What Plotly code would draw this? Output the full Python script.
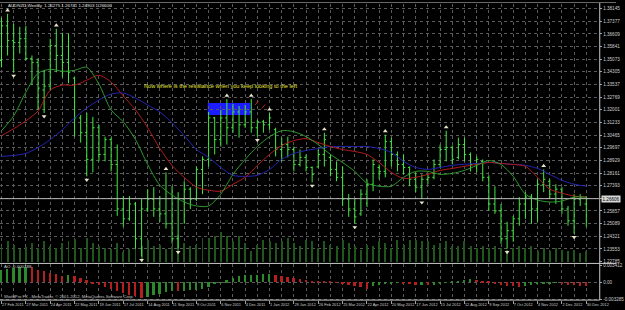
import pandas as pd
import plotly.graph_objects as go

# ---------------- data ----------------
dates = pd.date_range("2011-02-27", periods=97, freq="7D")

opens = [1.3500, 1.3710, 1.3620, 1.3608, 1.3632, 1.3512, 1.3488, 1.3320, 1.3344, 1.3590,
         1.3530, 1.3488, 1.3392, 1.3151, 1.3061, 1.2899, 1.3091, 1.2929, 1.3019, 1.2868,
         1.2598, 1.2538, 1.2628, 1.2417, 1.2598, 1.2658, 1.2598, 1.2568, 1.2508, 1.2417,
         1.2658, 1.2718, 1.2658, 1.2838, 1.2899, 1.3151, 1.3019, 1.3151, 1.3091, 1.3187,
         1.3109, 1.3187, 1.3091, 1.3127, 1.3109, 1.3079, 1.2959, 1.2989, 1.2959, 1.2868,
         1.2911, 1.2850, 1.2853, 1.2929, 1.2911, 1.2838, 1.2790, 1.2658, 1.2598, 1.2568,
         1.2688, 1.2748, 1.2850, 1.2826, 1.3007, 1.2929, 1.2868, 1.2850, 1.2778, 1.2730,
         1.2778, 1.2790, 1.2868, 1.2959, 1.2971, 1.2911, 1.2989, 1.2929, 1.2868, 1.2887,
         1.2790, 1.2628, 1.2586, 1.2417, 1.2466, 1.2538, 1.2628, 1.2670, 1.2598, 1.2748,
         1.2766, 1.2688, 1.2718, 1.2598, 1.2526, 1.2658, 1.26275]
highs = [1.3759, 1.3783, 1.3722, 1.3704, 1.3710, 1.3530, 1.3512, 1.3440, 1.3632, 1.3692,
         1.3668, 1.3662, 1.3398, 1.3169, 1.3181, 1.3157, 1.3109, 1.3037, 1.3031, 1.2989,
         1.2676, 1.2676, 1.2640, 1.2658, 1.2718, 1.2730, 1.2676, 1.2820, 1.2736, 1.2700,
         1.2766, 1.2730, 1.2856, 1.2917, 1.3187, 1.3157, 1.3199, 1.3265, 1.3235, 1.3223,
         1.3229, 1.3265, 1.3139, 1.3139, 1.3181, 1.3091, 1.3031, 1.3037, 1.2977, 1.2959,
         1.2929, 1.2856, 1.2959, 1.3061, 1.2929, 1.2887, 1.2856, 1.2688, 1.2658, 1.2718,
         1.2778, 1.2899, 1.2868, 1.3049, 1.3031, 1.2947, 1.2929, 1.2856, 1.2820, 1.2808,
         1.2808, 1.2899, 1.2989, 1.3073, 1.2983, 1.3031, 1.3031, 1.2941, 1.2917, 1.2899,
         1.2802, 1.2736, 1.2628, 1.2520, 1.2556, 1.2670, 1.2700, 1.2688, 1.2778, 1.2838,
         1.2778, 1.2748, 1.2730, 1.2616, 1.2688, 1.2688, 1.26741]
lows = [1.3458, 1.3530, 1.3428, 1.3542, 1.3500, 1.3350, 1.3199, 1.3181, 1.3320, 1.3428,
        1.3398, 1.3362, 1.3037, 1.3001, 1.2796, 1.2820, 1.2887, 1.2887, 1.2826, 1.2556,
        1.2490, 1.2526, 1.2357, 1.2309, 1.2580, 1.2550, 1.2520, 1.2478, 1.2387, 1.2357,
        1.2508, 1.2598, 1.2646, 1.2688, 1.2856, 1.2929, 1.2977, 1.2989, 1.3061, 1.3031,
        1.3091, 1.3061, 1.3037, 1.3061, 1.3079, 1.2917, 1.2887, 1.2911, 1.2826, 1.2856,
        1.2826, 1.2760, 1.2850, 1.2856, 1.2796, 1.2766, 1.2616, 1.2550, 1.2508, 1.2556,
        1.2610, 1.2706, 1.2778, 1.2790, 1.2856, 1.2826, 1.2808, 1.2736, 1.2700, 1.2658,
        1.2748, 1.2778, 1.2850, 1.2887, 1.2868, 1.2899, 1.2887, 1.2826, 1.2820, 1.2766,
        1.2586, 1.2568, 1.2387, 1.2357, 1.2399, 1.2496, 1.2538, 1.2508, 1.2520, 1.2700,
        1.2658, 1.2628, 1.2568, 1.2496, 1.2448, 1.2616, 1.24903]
closes = [1.3710, 1.3620, 1.3608, 1.3632, 1.3512, 1.3488, 1.3332, 1.3344, 1.3590, 1.3530,
          1.3488, 1.3428, 1.3151, 1.3061, 1.2899, 1.3091, 1.2929, 1.3019, 1.2868, 1.2598,
          1.2538, 1.2628, 1.2417, 1.2598, 1.2658, 1.2598, 1.2568, 1.2508, 1.2417, 1.2658,
          1.2718, 1.2658, 1.2838, 1.2899, 1.3151, 1.3019, 1.3151, 1.3091, 1.3187, 1.3109,
          1.3187, 1.3091, 1.3127, 1.3109, 1.3151, 1.2959, 1.2989, 1.2959, 1.2868, 1.2911,
          1.2850, 1.2808, 1.2929, 1.3019, 1.2838, 1.2790, 1.2658, 1.2598, 1.2550, 1.2688,
          1.2748, 1.2868, 1.2826, 1.3007, 1.2929, 1.2868, 1.2850, 1.2778, 1.2730, 1.2778,
          1.2790, 1.2868, 1.2959, 1.2971, 1.2899, 1.2989, 1.2929, 1.2868, 1.2899, 1.2790,
          1.2628, 1.2586, 1.2417, 1.2466, 1.2538, 1.2628, 1.2670, 1.2598, 1.2748, 1.2778,
          1.2688, 1.2718, 1.2598, 1.2526, 1.2658, 1.2670, 1.26606]

# moving averages, read every second week
ma_green = [1.3073, 1.3163, 1.3307, 1.3422, 1.3446, 1.3434, 1.3440, 1.3458, 1.3356, 1.3199,
            1.3127, 1.3019, 1.2868, 1.2742, 1.2682, 1.2640, 1.2616, 1.2616, 1.2688, 1.2808,
            1.2899, 1.2977, 1.3037, 1.3073, 1.3067, 1.3037, 1.2989, 1.2929, 1.2880, 1.2826,
            1.2754, 1.2736, 1.2736, 1.2790, 1.2826, 1.2826, 1.2808, 1.2814, 1.2832, 1.2862,
            1.2892, 1.2868, 1.2796, 1.2688, 1.2652, 1.2640, 1.2646, 1.2670, 1.2670]
ma_red = [1.3043, 1.3085, 1.3133, 1.3193, 1.3320, 1.3350, 1.3350, 1.3380, 1.3410, 1.3368,
          1.3284, 1.3199, 1.3091, 1.2965, 1.2862, 1.2790, 1.2730, 1.2712, 1.2706, 1.2748,
          1.2790, 1.2862, 1.2929, 1.2983, 1.3013, 1.3025, 1.3001, 1.2977, 1.2959, 1.2947,
          1.2929, 1.2880, 1.2820, 1.2784, 1.2790, 1.2808, 1.2832, 1.2844, 1.2857, 1.2868,
          1.2880, 1.2874, 1.2868, 1.2857, 1.2790, 1.2718, 1.2694, 1.2676, 1.2670]
ma_blue = [1.2917, 1.2923, 1.2935, 1.2971, 1.3019, 1.3079, 1.3151, 1.3211, 1.3260, 1.3296,
           1.3302, 1.3271, 1.3229, 1.3187, 1.3121, 1.3043, 1.2959, 1.2911, 1.2850, 1.2802,
           1.2796, 1.2802, 1.2838, 1.2899, 1.2935, 1.2953, 1.2965, 1.2977, 1.2977, 1.2977,
           1.2977, 1.2965, 1.2941, 1.2887, 1.2850, 1.2838, 1.2850, 1.2863, 1.2869, 1.2874,
           1.2880, 1.2874, 1.2869, 1.2863, 1.2844, 1.2808, 1.2772, 1.2748, 1.2736]

volumes = [17000, 22000, 18000, 14000, 16000, 20000, 15000, 22000, 17000, 15000,
           20000, 22000, 24000, 15000, 25000, 20000, 17000, 15000, 14000, 20000,
           11000, 14000, 17000, 17000, 23000, 17000, 18000, 14000, 17000, 28000,
           20000, 17000, 18000, 25000, 25000, 27000, 31000, 27000, 22000, 27000,
           20000, 12000, 18000, 23000, 22000, 20000, 22000, 25000, 20000, 17000,
           23000, 22000, 15000, 22000, 18000, 17000, 23000, 20000, 17000, 13000,
           18000, 17000, 22000, 20000, 15000, 23000, 18000, 23000, 23000, 22000,
           22000, 18000, 20000, 22000, 17000, 17000, 22000, 17000, 15000, 17000,
           15000, 17000, 15000, 13000, 15000, 17000, 15000, 17000, 12000, 15000,
           12000, 15000, 13000, 12000, 13000, 10000, 12000]

ao = [0.002364, 0.002561, 0.002758, 0.002955, 0.003054, 0.002955, 0.002463, 0.002167, 0.001872, 0.001576,
      0.001281, 0.001379, 0.001182, 0.000788, 0.000394, -0.000197, -0.000591, -0.000985, -0.001379, -0.001675,
      -0.002069, -0.002463, -0.002758, -0.003152, -0.002955, -0.002561, -0.002364, -0.001970, -0.001675, -0.001773,
      -0.001675, -0.001576, -0.001478, -0.001379, -0.000887, -0.000394, -0.000099, 0.000394, 0.000887, 0.001182,
      0.001379, 0.001478, 0.001517, 0.001576, 0.001615, 0.001478, 0.001281, 0.001084, 0.000887, 0.000690,
      0.000493, 0.000296, 0.000158, 0.000099, 0.000059, -0.000099, -0.000296, -0.000591, -0.000788, -0.000985,
      -0.001379, -0.000788, -0.000591, -0.000394, -0.000197, -0.000099, -0.000197, -0.000394, -0.000591, -0.000493,
      -0.000591, -0.000493, -0.000296, -0.000099, 0.000099, 0.000296, 0.000493, 0.000591, 0.000493, 0.000296,
      0.000099, -0.000197, -0.000493, -0.000690, -0.000788, -0.000985, -0.000788, -0.000591, -0.000394, -0.000296,
      -0.000197, -0.000158, -0.000296, -0.000493, -0.000591, -0.000690, -0.000788]

fractal_up = [1, 9, 27, 37, 41, 44, 53, 63, 73, 89]
fractal_down = [2, 7, 14, 23, 29, 42, 51, 58, 69, 83, 94]

price_top_label = 1.38145
price_step = 0.00768
ao_ticks = [0.003412, 0.0, -0.003285]
ao_ticktext = ["0.003412", "0.00", "-0.003285"]

header = "AUDNZD,Weekly  1.26275 1.26741 1.24903 1.26606"
note = "Now where is the resistance when you keep looking to the left"
copyright_txt = "WorldPro FX - MetaTrader, \u00a9 2001-2012, MetaQuotes Software Corp."

# ---------------- styling ----------------
W, H = 625, 310
BAR = "#44e844"
GRID = "#5a5a5a"
LBL = "#cfcfcf"
WEEK_MS = 7 * 24 * 3600 * 1000


def px(x):
    return x / W


def py(y):
    return 1 - y / H


ma_dates = dates[::2]

fig = go.Figure()

# volumes (base axis of main pane)
fig.add_trace(go.Bar(x=dates, y=volumes, xaxis="x", yaxis="y",
                     marker=dict(color="#22561f", line=dict(width=0)),
                     width=WEEK_MS * 0.16, hoverinfo="skip"))

# moving averages
for vals, col in [(ma_blue, "#2323b4"), (ma_red, "#b01c1c"), (ma_green, "#2e9a2e")]:
    fig.add_trace(go.Scatter(x=ma_dates, y=vals, xaxis="x", yaxis="y3", mode="lines",
                             line=dict(color=col, width=1, shape="spline", smoothing=0.8),
                             hoverinfo="skip"))

# price bars
fig.add_trace(go.Ohlc(x=dates, open=opens, high=highs, low=lows, close=closes,
                      xaxis="x", yaxis="y3", tickwidth=0.28,
                      increasing=dict(line=dict(color=BAR, width=1)),
                      decreasing=dict(line=dict(color=BAR, width=1)),
                      hoverinfo="skip"))

# fractals
gap = 0.0021
fig.add_trace(go.Scatter(x=[dates[i] for i in fractal_up], y=[highs[i] + gap for i in fractal_up],
                         xaxis="x", yaxis="y3", mode="markers",
                         marker=dict(symbol="triangle-up", size=4.2, color="#e9e3c8"), hoverinfo="skip"))
fig.add_trace(go.Scatter(x=[dates[i] for i in fractal_down], y=[lows[i] - gap for i in fractal_down],
                         xaxis="x", yaxis="y3", mode="markers",
                         marker=dict(symbol="triangle-down", size=4.2, color="#e9e3c8"), hoverinfo="skip"))

# Awesome oscillator
ao_colors = []
for i, v in enumerate(ao):
    if i == 0 or v > ao[i - 1]:
        ao_colors.append("#2c8a2c")
    else:
        ao_colors.append("#b42020")
fig.add_trace(go.Bar(x=dates, y=ao, xaxis="x2", yaxis="y2",
                     marker=dict(color=ao_colors, line=dict(width=0)),
                     width=WEEK_MS * 0.3, hoverinfo="skip"))

x_range = ["2011-02-25 07:00", "2013-01-13 21:00"]
price_ticks = [price_top_label - k * price_step for k in range(21)]
lbl_font = dict(family="Arial", size=4.6, color=LBL)
date_font = dict(family="Arial", size=3.9, color=LBL)

xcommon = dict(type="date", range=x_range, domain=[0, px(608)],
               tick0="2011-02-27", dtick=4 * WEEK_MS,
               showgrid=True, gridcolor=GRID, griddash="dot", gridwidth=1,
               minor=dict(dtick=2 * WEEK_MS, showgrid=True, gridcolor=GRID, griddash="dot", gridwidth=1),
               zeroline=False, fixedrange=True)

fig.update_layout(
    width=W, height=H,
    margin=dict(l=0, r=0, t=0, b=0),
    paper_bgcolor="black", plot_bgcolor="black",
    showlegend=False, bargap=0,
    xaxis=dict(**xcommon, anchor="y", showticklabels=False, ticks="",
               rangeslider=dict(visible=False)),
    xaxis2=dict(**xcommon, anchor="y2", matches="x", showticklabels=True,
                tickformat="%-d %b %Y", tickangle=0, ticks="outside", ticklen=3,
                tickcolor="#a0a0a0", ticklabelposition="outside right", tickfont=date_font),
    yaxis=dict(domain=[py(264), py(3)], range=[0, 261000], showgrid=False,
               showticklabels=False, zeroline=False, fixedrange=True),
    yaxis3=dict(overlaying="y", anchor="x", side="right", range=[1.22731, 1.38428],
                tickvals=price_ticks, ticktext=[f"{v:.5f}" for v in price_ticks],
                showgrid=True, gridcolor=GRID, griddash="dot", gridwidth=1,
                ticks="outside", ticklen=2, tickcolor="#a0a0a0",
                tickfont=lbl_font, zeroline=False, fixedrange=True),
    yaxis2=dict(domain=[py(302), py(266)], range=[-0.003487, 0.003605], side="right",
                anchor="x2", tickvals=ao_ticks, ticktext=ao_ticktext,
                showgrid=True, gridcolor=GRID, griddash="dot", gridwidth=1,
                ticks="outside", ticklen=2, tickcolor="#a0a0a0",
                tickfont=lbl_font, zeroline=False, fixedrange=True),
)

line_col = "#c8c8c8"
shapes = [
    # blue zone (behind bars)
    dict(type="rect", xref="x", yref="y3", x0="2011-10-22", x1="2011-12-10",
         y0=1.3169, y1=1.3241, fillcolor="#1c1cff", line=dict(width=0), layer="below"),
    # current price line
    dict(type="line", xref="paper", yref="y3", x0=0, x1=px(608), y0=closes[-1], y1=closes[-1],
         line=dict(color="#b8b8b8", width=1)),
    # frame lines
    dict(type="line", xref="paper", yref="paper", x0=0, x1=1, y0=py(1.5), y1=py(1.5),
         line=dict(color="#6a6a6a", width=1)),
    dict(type="line", xref="paper", yref="paper", x0=0, x1=1, y0=py(265), y1=py(265),
         line=dict(color=line_col, width=1)),
    dict(type="line", xref="paper", yref="paper", x0=0, x1=px(608.5), y0=py(302), y1=py(302),
         line=dict(color=line_col, width=1)),
    dict(type="line", xref="paper", yref="paper", x0=px(608.5), x1=px(608.5), y0=py(302), y1=py(2),
         line=dict(color=line_col, width=1)),
    # small red marks
    dict(type="line", xref="paper", yref="paper", x0=px(262), x1=px(259), y0=py(101), y1=py(105),
         line=dict(color="#d02020", width=1)),
    dict(type="line", xref="paper", yref="paper", x0=px(269), x1=px(265.5), y0=py(104.5), y1=py(108.5),
         line=dict(color="#d02020", width=1)),
]
fig.update_layout(shapes=shapes)

ann = [
    dict(text=header, xref="paper", yref="paper", x=px(6), y=py(4.5), xanchor="left", yanchor="middle",
         showarrow=False, font=dict(family="Arial", size=4.4, color="#e0e0e0")),
    dict(text=note, xref="paper", yref="paper", x=px(224), y=py(85.5), xanchor="center", yanchor="middle",
         showarrow=False, font=dict(family="Arial", size=5.6, color="#e6e63c")),
    dict(text=f"AO {ao[-1]:.6f}", xref="paper", yref="paper", x=px(2), y=py(268.5), xanchor="left",
         yanchor="middle", showarrow=False, font=dict(family="Arial", size=4.4, color="#d0d0d0")),
    dict(text=copyright_txt, xref="paper", yref="paper", x=px(2), y=py(298.5), xanchor="left",
         yanchor="middle", showarrow=False, font=dict(family="Arial", size=4.2, color="#c8c8c8")),
    dict(text=f"{closes[-1]:.5f}", xref="paper", yref="y3", x=px(610), y=closes[-1], xanchor="left",
         yanchor="middle", showarrow=False, bgcolor="#d8d8d8", borderpad=0.5,
         font=dict(family="Arial", size=4.6, color="#000000")),
]
fig.update_layout(annotations=ann)

fig.write_html("out.html")
